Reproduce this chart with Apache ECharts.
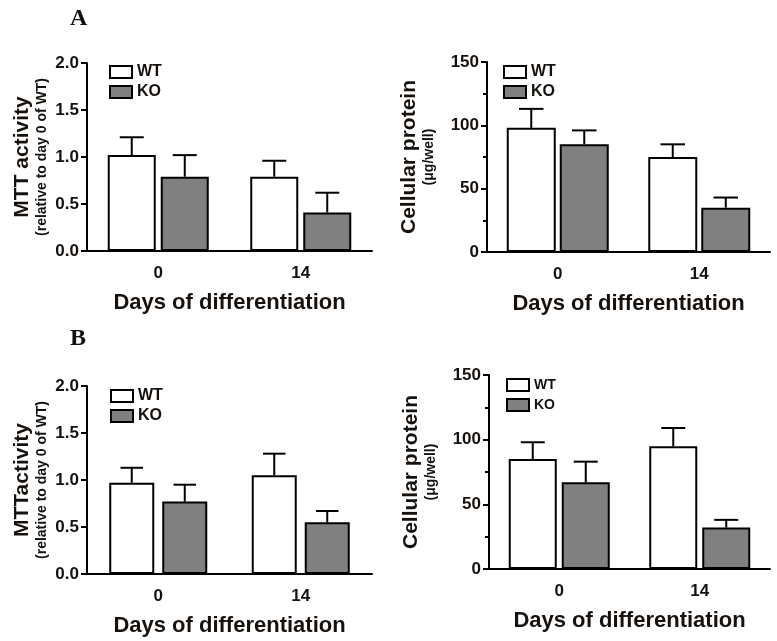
<!DOCTYPE html>
<html>
<head>
<meta charset="utf-8">
<script src="https://cdn.jsdelivr.net/npm/echarts@6/dist/echarts.min.js"></script>
<style>
  html, body { margin: 0; padding: 0; background: #fff; }
  #main { width: 777px; height: 641px; }
</style>
</head>
<body>
<div id="main"></div>
<script>
(function () {
    "use strict";

    // days of differentiation
    var categories = ['0', '14'];

    // panel A, MTT activity (mean, SEM)
    var mttA_wt = [1.02, 0.79];
    var mttA_wtErr = [0.19, 0.17];
    var mttA_ko = [0.79, 0.41];
    var mttA_koErr = [0.23, 0.21];

    // panel A, cellular protein (ug/well)
    var protA_wt = [98, 75];
    var protA_wtErr = [15, 10];
    var protA_ko = [85, 35];
    var protA_koErr = [11, 8];

    // panel B, MTT activity
    var mttB_wt = [0.97, 1.05];
    var mttB_wtErr = [0.16, 0.23];
    var mttB_ko = [0.77, 0.55];
    var mttB_koErr = [0.18, 0.12];

    // panel B, cellular protein
    var protB_wt = [85, 95];
    var protB_wtErr = [13, 14];
    var protB_ko = [67, 32];
    var protB_koErr = [16, 6];

    var mttTicks = ['0.0', '0.5', '1.0', '1.5', '2.0'];
    var protTicks = ['0', '50', '100', '150'];

    var FONT = 'Liberation Sans';
    var INK = '#16110d';

    var myChart = echarts.init(document.getElementById('main'));

    var option = {
        backgroundColor: '#fff',
        animation: false,
        title: [
            {text: 'A', left: 65, top: 2},
            {text: 'B', left: 65, top: 322}
        ].map(function (t) {
            t.textStyle = {fontFamily: 'Liberation Serif', fontWeight: 'bold', fontSize: 24, color: INK};
            return t;
        }),
        legend: [],
        grid: [],
        xAxis: [],
        yAxis: [],
        series: []
    };

    function errorRenderer(side, barWidth, gap) {
        return function (params, api) {
            var cat = api.value(0);
            var p0 = api.coord([cat, api.value(1)]);
            var p1 = api.coord([cat, api.value(1) + api.value(2)]);
            var x = p0[0] + side * (barWidth + gap) / 2;
            var cap = barWidth / 4;
            var style = {stroke: '#000', lineWidth: 2, fill: null};
            return {
                type: 'group',
                children: [
                    {type: 'line', shape: {x1: x, y1: p0[1], x2: x, y2: p1[1]}, style: style},
                    {type: 'line', shape: {x1: x - cap, y1: p1[1], x2: x + cap, y2: p1[1]}, style: style}
                ]
            };
        };
    }

    function addPanel(p) {
        var i = option.grid.length;
        option.grid.push(p.grid);

        option.legend.push({
            data: ['WT', 'KO'],
            orient: 'vertical',
            left: p.legendPos[0],
            top: p.legendPos[1],
            itemWidth: 22,
            itemHeight: 12,
            itemGap: p.legendGap,
            selectedMode: false,
            icon: 'rect',
            itemStyle: {borderColor: '#000', borderWidth: 2},
            textStyle: {fontFamily: FONT, fontWeight: 'bold', fontSize: p.legendFont, color: INK}
        });

        option.xAxis.push({
            type: 'category',
            gridIndex: i,
            data: categories,
            axisLine: {lineStyle: {color: '#000', width: 2}},
            axisTick: {alignWithLabel: true, length: 6, lineStyle: {width: 2, color: '#000'}},
            axisLabel: {fontFamily: FONT, fontWeight: 'bold', fontSize: 17, color: INK, margin: 14},
            name: 'Days of differentiation',
            nameLocation: 'middle',
            nameGap: 41,
            nameTextStyle: {fontFamily: FONT, fontWeight: 'bold', fontSize: 22, color: INK}
        });

        option.yAxis.push({
            type: 'value',
            gridIndex: i,
            min: 0,
            max: p.max,
            interval: p.interval,
            splitNumber: p.ticks.length - 1,
            axisLine: {show: true, lineStyle: {color: '#000', width: 2}},
            axisTick: {show: true, length: 6, lineStyle: {width: 2, color: '#000'}},
            minorTick: {show: p.minor, splitNumber: 2, length: 4, lineStyle: {width: 2, color: '#000'}},
            splitLine: {show: false},
            axisLabel: {
                fontFamily: FONT, fontWeight: 'bold', fontSize: 17, color: INK, margin: 8,
                formatter: function (v) {
                    return p.ticks[Math.round(v / p.interval)];
                }
            },
            name: '{a|' + p.title + '}\n{b|' + p.sub + '}',
            nameLocation: 'middle',
            nameRotate: 90,
            nameGap: p.nameGap,
            nameTextStyle: {
                color: INK,
                rich: {
                    a: {fontFamily: FONT, fontWeight: 'bold', fontSize: 21, lineHeight: 24, color: INK},
                    b: {fontFamily: FONT, fontWeight: 'bold', fontSize: 14, lineHeight: 16, color: INK}
                }
            }
        });

        var groups = [
            {name: 'WT', vals: p.wt, err: p.wtErr, fill: '#ffffff', side: -1},
            {name: 'KO', vals: p.ko, err: p.koErr, fill: '#808080', side: 1}
        ];
        groups.forEach(function (g) {
            option.series.push({
                name: g.name,
                type: 'bar',
                xAxisIndex: i,
                yAxisIndex: i,
                barWidth: p.barWidth,
                barGap: (p.gap / p.barWidth * 100) + '%',
                itemStyle: {color: g.fill, borderColor: '#000', borderWidth: 2},
                data: g.vals
            });
        });
        groups.forEach(function (g) {
            option.series.push({
                name: g.name + ' SEM',
                type: 'custom',
                xAxisIndex: i,
                yAxisIndex: i,
                z: 5,
                renderItem: errorRenderer(g.side, p.barWidth, p.gap),
                data: g.vals.map(function (v, k) {
                    return [k, v, g.err[k]];
                })
            });
        });
    }

    addPanel({
        grid: {left: 87, top: 63, width: 285, height: 188},
        legendPos: [104, 59], legendGap: 4, legendFont: 16,
        max: 2, interval: 0.5, ticks: mttTicks, minor: false,
        title: 'MTT activity', sub: '(relative to day 0 of WT)', nameGap: 37,
        barWidth: 48, gap: 5,
        wt: mttA_wt, wtErr: mttA_wtErr, ko: mttA_ko, koErr: mttA_koErr
    });
    addPanel({
        grid: {left: 487, top: 62, width: 283, height: 190},
        legendPos: [498, 59], legendGap: 4, legendFont: 16,
        max: 150, interval: 50, ticks: protTicks, minor: true,
        title: 'Cellular protein', sub: '(μg/well)', nameGap: 50,
        barWidth: 49, gap: 4,
        wt: protA_wt, wtErr: protA_wtErr, ko: protA_ko, koErr: protA_koErr
    });
    addPanel({
        grid: {left: 87, top: 386, width: 285, height: 188},
        legendPos: [105, 383], legendGap: 4, legendFont: 16,
        max: 2, interval: 0.5, ticks: mttTicks, minor: false,
        title: 'MTTactivity', sub: '(relative to day 0 of WT)', nameGap: 37,
        barWidth: 45, gap: 8,
        wt: mttB_wt, wtErr: mttB_wtErr, ko: mttB_ko, koErr: mttB_koErr
    });
    addPanel({
        grid: {left: 489, top: 375, width: 281, height: 194},
        legendPos: [501, 373], legendGap: 6, legendFont: 14,
        max: 150, interval: 50, ticks: protTicks, minor: true,
        title: 'Cellular protein', sub: '(μg/well)', nameGap: 50,
        barWidth: 48, gap: 5,
        wt: protB_wt, wtErr: protB_wtErr, ko: protB_ko, koErr: protB_koErr
    });

    myChart.setOption(option);
})();
</script>
</body>
</html>
